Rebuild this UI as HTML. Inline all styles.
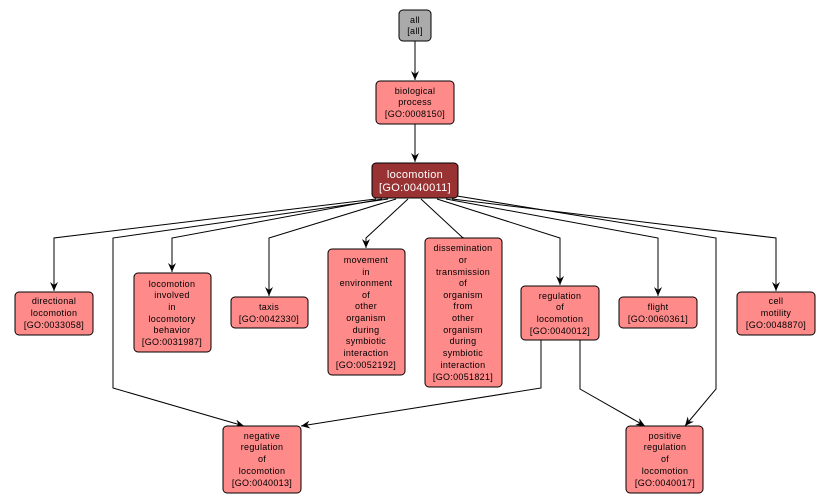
<!DOCTYPE html>
<html><head><meta charset="utf-8"><style>
html,body{margin:0;padding:0;background:#fff;}
svg{display:block;}
text{font-family:"Liberation Sans",sans-serif;font-size:9px;fill:#000;text-anchor:middle;letter-spacing:0.3px;}
.n{fill:#ff8a8a;stroke:#000;stroke-width:1;}
.e{fill:none;stroke:#000;stroke-width:1;}
</style></head><body>
<svg width="831" height="504" viewBox="0 0 831 504" xmlns="http://www.w3.org/2000/svg">
<defs><marker id="a" markerWidth="10" markerHeight="10" refX="9" refY="5" orient="auto" markerUnits="userSpaceOnUse"><path d="M0,1 L9,5 L0,9 L3,5 z" fill="#000"/></marker></defs>
<g class="e" marker-end="url(#a)">
<path d="M415,41 L415,80"/>
<path d="M415,124 L415,162"/>
<path d="M376,199 L54,238 L54,291"/>
<path d="M382,199 L172,238 L172,272"/>
<path d="M388,199 L113,238 L113,388 L244,426"/>
<path d="M396,199 L269,238 L269,296"/>
<path d="M408,199 L366,238 L366,248"/>
<path d="M421,199 L463,238 L463,237"/>
<path d="M437,199 L560,238 L560,285"/>
<path d="M446,199 L658,238 L658,296"/>
<path d="M452,199 L776,238 L776,291"/>
<path d="M457,196 L716,238 L716,389 L685,426"/>
<path d="M541,340 L541,388 L301,426"/>
<path d="M580,340 L580,389 L645,426"/>
</g>
<rect x="399" y="10" width="32" height="31" rx="4" fill="#aaaaaa" stroke="#000"/>
<text x="415" y="23">all</text><text x="415" y="34">[all]</text>
<rect class="n" x="376" y="81" width="78" height="43" rx="4"/>
<text x="415" y="94">biological</text><text x="415" y="105">process</text><text x="415" y="117">[GO:0008150]</text>
<rect x="372" y="163" width="86" height="35" rx="4" fill="#993333" stroke="#000"/>
<text x="415" y="178" style="font-size:11px;fill:#fff">locomotion</text><text x="415" y="191" style="font-size:11px;fill:#fff">[GO:0040011]</text>
<rect class="n" x="15" y="292" width="78" height="43" rx="4"/>
<text x="54" y="304">directional</text><text x="54" y="316">locomotion</text><text x="54" y="328">[GO:0033058]</text>
<rect class="n" x="134" y="273" width="77" height="79" rx="4"/>
<text x="172" y="287">locomotion</text><text x="172" y="298">involved</text><text x="172" y="310">in</text><text x="172" y="322">locomotory</text><text x="172" y="333">behavior</text><text x="172" y="345">[GO:0031987]</text>
<rect class="n" x="231" y="297" width="77" height="31" rx="4"/>
<text x="269" y="310">taxis</text><text x="269" y="322">[GO:0042330]</text>
<rect class="n" x="328" y="249" width="77" height="126" rx="4"/>
<text x="366" y="263">movement</text><text x="366" y="275">in</text><text x="366" y="286">environment</text><text x="366" y="298">of</text><text x="366" y="309">other</text><text x="366" y="321">organism</text><text x="366" y="333">during</text><text x="366" y="344">symbiotic</text><text x="366" y="356">interaction</text><text x="366" y="368">[GO:0052192]</text>
<rect class="n" x="425" y="238" width="77" height="149" rx="4"/>
<text x="463" y="251">dissemination</text><text x="463" y="263">or</text><text x="463" y="275">transmission</text><text x="463" y="286">of</text><text x="463" y="298">organism</text><text x="463" y="309">from</text><text x="463" y="321">other</text><text x="463" y="333">organism</text><text x="463" y="344">during</text><text x="463" y="356">symbiotic</text><text x="463" y="368">interaction</text><text x="463" y="380">[GO:0051821]</text>
<rect class="n" x="521" y="286" width="78" height="54" rx="4"/>
<text x="560" y="299">regulation</text><text x="560" y="310">of</text><text x="560" y="322">locomotion</text><text x="560" y="334">[GO:0040012]</text>
<rect class="n" x="619" y="297" width="78" height="31" rx="4"/>
<text x="658" y="310">flight</text><text x="658" y="322">[GO:0060361]</text>
<rect class="n" x="737" y="292" width="78" height="43" rx="4"/>
<text x="776" y="304">cell</text><text x="776" y="316">motility</text><text x="776" y="328">[GO:0048870]</text>
<rect class="n" x="223" y="426" width="78" height="67" rx="4"/>
<text x="262" y="439">negative</text><text x="262" y="450">regulation</text><text x="262" y="462">of</text><text x="262" y="474">locomotion</text><text x="262" y="486">[GO:0040013]</text>
<rect class="n" x="626" y="426" width="77" height="67" rx="4"/>
<text x="665" y="439">positive</text><text x="665" y="450">regulation</text><text x="665" y="462">of</text><text x="665" y="474">locomotion</text><text x="665" y="486">[GO:0040017]</text>
</svg>
</body></html>
